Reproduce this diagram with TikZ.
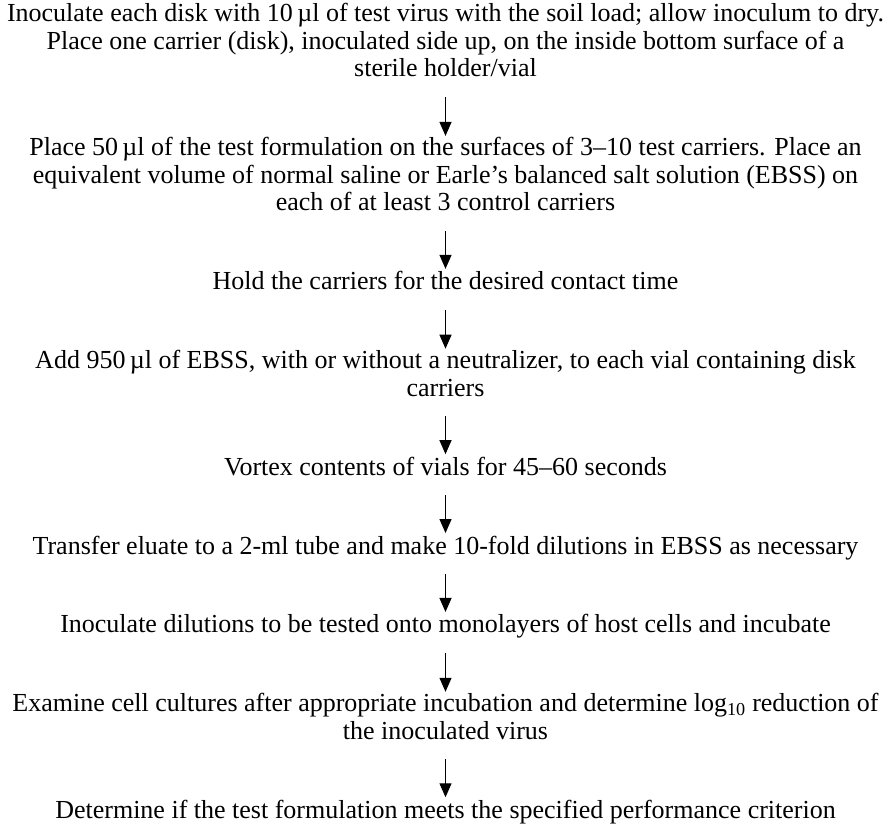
\documentclass[tikz,border=0pt]{standalone}
\usepackage{fontspec}
\setmainfont{Liberation Serif}
\usetikzlibrary{arrows.meta}
\begin{document}
\begin{tikzpicture}[x=1pt,y=-1pt,
  txt/.style={align=center,inner sep=0pt,anchor=base,font=\fontsize{26}{27.5}\selectfont,
    execute at begin node=\strut,execute at end node=\strut},
  arr/.style={line width=1.2pt,-{Triangle[width=12pt,length=14pt]},shorten <=11.5pt,shorten >=1.5pt}]
\useasboundingbox (0,0) rectangle (891,824);
% base anchor of a multi-line node is the baseline of its last line
\node[txt] (b1) at (445.5,77) {Inoculate each disk with 10\,µl of test virus with the soil load; allow inoculum to dry.\\Place one carrier (disk), inoculated side up, on the inside bottom surface of a\\sterile holder/vial};
\node[txt] (b2) at (445.5,210.9) {Place 50\,µl of the test formulation on the surfaces of 3–10 test carriers. Place an\\equivalent volume of normal saline or Earle’s balanced salt solution (EBSS) on\\each of at least 3 control carriers};
\node[txt] (b3) at (445.5,289.8) {Hold the carriers for the desired contact time};
\node[txt] (b4) at (445.5,396.2) {Add 950\,µl of EBSS, with or without a neutralizer, to each vial containing disk\\carriers};
\node[txt] (b5) at (445.5,475.1) {Vortex contents of vials for 45–60 seconds};
\node[txt] (b6) at (445.5,554) {Transfer eluate to a 2-ml tube and make 10-fold dilutions in EBSS as necessary};
\node[txt] (b7) at (445.5,632.9) {Inoculate dilutions to be tested onto monolayers of host cells and incubate};
\node[txt] (b8) at (445.5,739.3) {Examine cell cultures after appropriate incubation and determine log\textsubscript{10} reduction of\\the inoculated virus};
\node[txt] (b9) at (445.5,818.2) {Determine if the test formulation meets the specified performance criterion};
\draw[arr] (b1) -- (b2);
\draw[arr] (b2) -- (b3);
\draw[arr] (b3) -- (b4);
\draw[arr] (b4) -- (b5);
\draw[arr] (b5) -- (b6);
\draw[arr] (b6) -- (b7);
\draw[arr] (b7) -- (b8);
\draw[arr] (b8) -- (b9);
\end{tikzpicture}
\end{document}
